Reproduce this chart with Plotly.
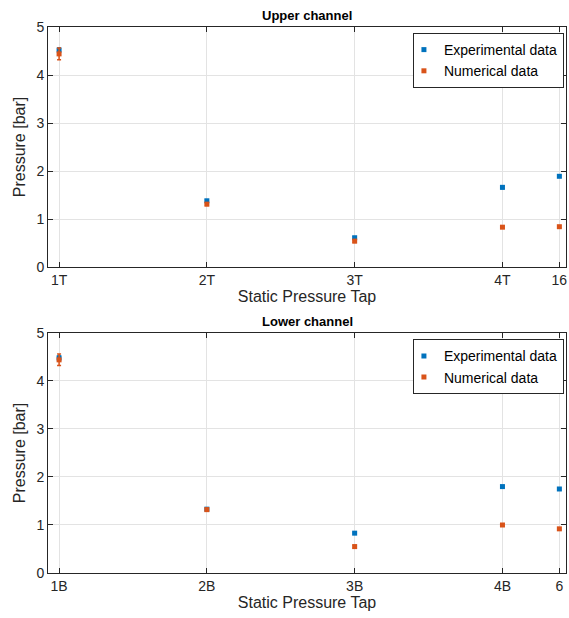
import plotly.graph_objects as go
from plotly.subplots import make_subplots

# ---- data ----
tap_pos = [1, 2, 3, 4, 4.385]
upper_ticks = ["1T", "2T", "3T", "4T", "16"]
lower_ticks = ["1B", "2B", "3B", "4B", "6"]

upper_exp = [4.52, 1.38, 0.61, 1.66, 1.89]
upper_exp_err = [0.04, 0.02, 0.02, 0.03, 0.02]
upper_num = [4.44, 1.31, 0.54, 0.83, 0.84]
upper_num_err = [0.12, 0.03, 0.03, 0.02, 0.02]

lower_exp = [4.48, 1.33, 0.83, 1.80, 1.75]
lower_exp_err = [0.04, 0.02, 0.02, 0.02, 0.02]
lower_num = [4.44, 1.32, 0.55, 1.00, 0.92]
lower_num_err = [0.12, 0.03, 0.03, 0.02, 0.02]

BLUE = "#0072BD"
ORANGE = "#D95319"
AXC = "#262626"
FONT = "Liberation Sans, Arial, sans-serif"

fig = make_subplots(rows=2, cols=1, vertical_spacing=0.1208)

def add(row, y, err, name, color):
    fig.add_trace(go.Scatter(
        x=tap_pos, y=y, mode="markers", name=name,
        marker=dict(symbol="square", size=5, color=color),
        error_y=dict(type="data", array=err, color=color, thickness=1.5, width=2),
        showlegend=True,
        legend="legend" if row == 1 else "legend2",
    ), row=row, col=1)

add(1, upper_exp, upper_exp_err, "Experimental data", BLUE)
add(1, upper_num, upper_num_err, "Numerical data", ORANGE)
add(2, lower_exp, lower_exp_err, "Experimental data", BLUE)
add(2, lower_num, lower_num_err, "Numerical data", ORANGE)

for r, ticks in ((1, upper_ticks), (2, lower_ticks)):
    fig.update_xaxes(
        range=[0.925, 4.43], tickvals=tap_pos, ticktext=ticks,
        showline=True, linecolor=AXC, linewidth=1, mirror="ticks",
        ticks="inside", ticklen=5, tickcolor=AXC,
        showgrid=True, gridcolor="#e3e3e3", zeroline=False,
        tickfont=dict(size=14, color=AXC, family=FONT),
        title=dict(text="Static Pressure Tap", standoff=3,
                   font=dict(size=16, color=AXC, family=FONT)),
        row=r, col=1)
    fig.update_yaxes(
        range=[0, 5], tickvals=[0, 1, 2, 3, 4, 5],
        showline=True, linecolor=AXC, linewidth=1, mirror="ticks",
        ticks="inside", ticklen=5, tickcolor=AXC,
        showgrid=True, gridcolor="#e3e3e3", zeroline=False,
        tickfont=dict(size=14, color=AXC, family=FONT),
        title=dict(text="Pressure [bar]", standoff=6,
                   font=dict(size=16, color=AXC, family=FONT)),
        row=r, col=1)

legend_style = dict(
    xanchor="right", yanchor="top", bgcolor="white",
    bordercolor=AXC, borderwidth=1,
    font=dict(size=14, color="#000000", family=FONT),
    tracegroupgap=0, itemwidth=30, indentation=-10,
)
fig.update_layout(
    width=569, height=618,
    margin=dict(l=48, r=3, t=27, b=45),
    plot_bgcolor="white", paper_bgcolor="white",
    font=dict(family=FONT, color=AXC),
    legend=dict(x=0.996, y=0.989, **legend_style),
    legend2=dict(x=0.996, y=0.428, **legend_style),
    annotations=[
        dict(text="<b>Upper channel</b>", x=0.5, y=1.0, xref="paper", yref="paper",
             xanchor="center", yanchor="bottom", yshift=2, showarrow=False,
             font=dict(size=13, color="#000000", family=FONT)),
        dict(text="<b>Lower channel</b>", x=0.5, y=0.4396, xref="paper", yref="paper",
             xanchor="center", yanchor="bottom", yshift=2, showarrow=False,
             font=dict(size=13, color="#000000", family=FONT)),
    ],
)
fig.update_yaxes(domain=[0.5604, 1.0], row=1, col=1)
fig.update_yaxes(domain=[0.0, 0.4396], row=2, col=1)

fig.write_html("out.html", config={"displayModeBar": False},
               post_script="document.body.style.margin='0';")
